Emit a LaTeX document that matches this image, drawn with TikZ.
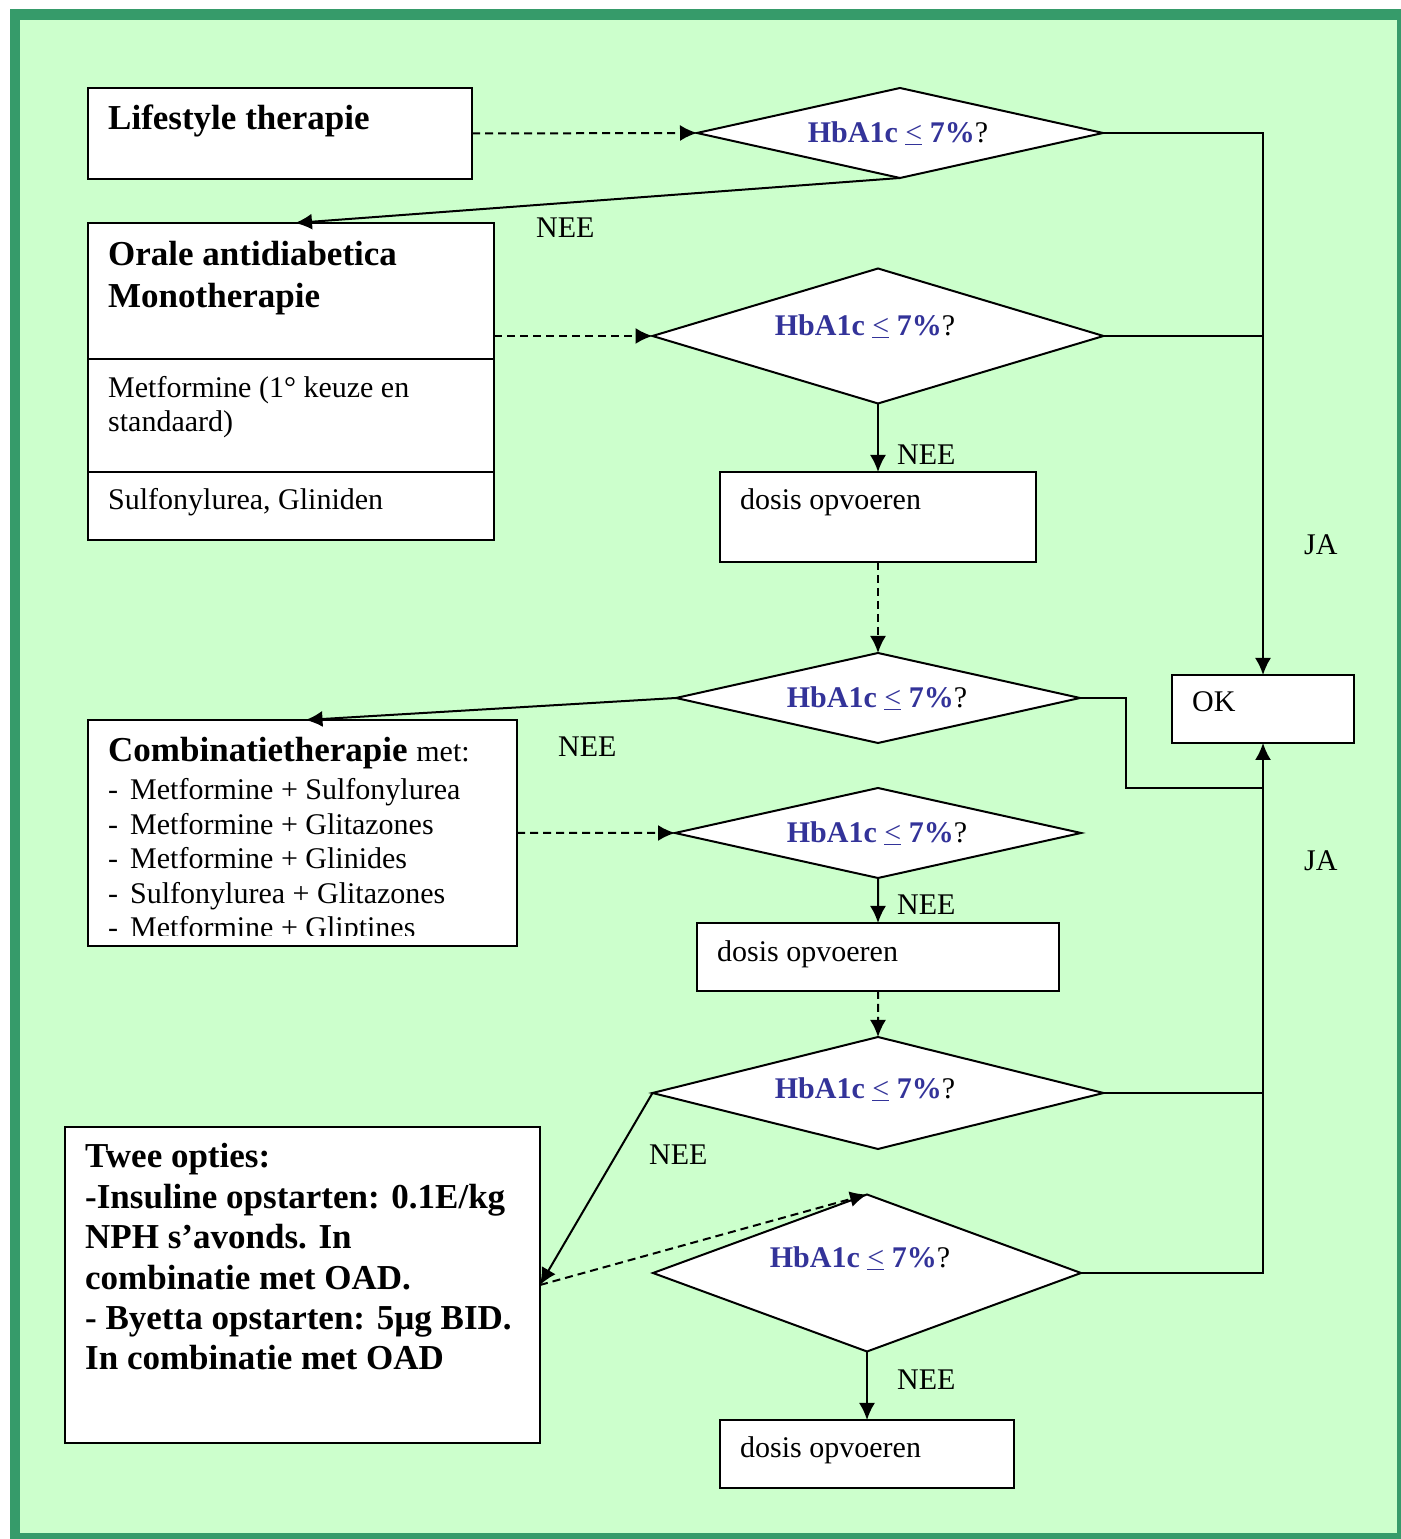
\documentclass[tikz,border=0pt]{standalone}
\usepackage{fontspec}
\setmainfont{Liberation Serif}
\usetikzlibrary{arrows.meta,shapes.geometric}

\definecolor{framegreen}{RGB}{54,155,106}
\definecolor{mintfill}{RGB}{204,255,204}
\definecolor{qblue}{RGB}{51,51,153}
\newcommand{\hbaone}{\textcolor{qblue}{\textbf{HbA1c} \underline{<} \textbf{7\%}}?}

\begin{document}
\begin{tikzpicture}[>={Latex[length=17bp,width=16bp]},
  box/.style={draw, fill=white, line width=2bp, rectangle, inner sep=0pt, outer sep=0pt, anchor=north west},
  choice/.style={draw, fill=white, line width=2bp, diamond, inner sep=0pt, outer sep=0pt},
  plain/.style={font=\fontsize{30bp}{34.5bp}\selectfont, inner sep=0pt, anchor=base west, align=left},
  heavy/.style={font=\fontsize{35bp}{42bp}\selectfont\bfseries, inner sep=0pt, anchor=base west, align=left},
  qtext/.style={font=\fontsize{30bp}{34bp}\selectfont, inner sep=0pt, text height=20bp, text depth=0pt},
  edge/.style={line width=2bp},
  dashedge/.style={line width=2bp, dash pattern=on 8bp off 5bp}]

% Frame
\useasboundingbox (0bp,0bp) rectangle (1401bp,1539bp);
\fill[framegreen] (10bp,0bp) rectangle (1401bp,1530bp);
\fill[mintfill] (20bp,6bp) rectangle (1397bp,1519bp);

% Node: life
\node[box, minimum width=384bp, minimum height=91bp] (life) at (88bp,1451bp) {};
\node[heavy] (lifetext) at (108bp,1409bp) {Lifestyle therapie};

% Node: qA
\node[choice, minimum width=406bp, minimum height=90bp,
  label={[qtext, xshift=-2bp]center:\hbaone}] (qA) at (900bp,1406bp) {};

% Node: orale (base = last line)
\node[box, minimum width=406bp, minimum height=317bp] (orale) at (88bp,1316bp) {};
\draw[edge] ([yshift=-136bp]orale.north west) -- ([yshift=-136bp]orale.north east);
\draw[edge] ([yshift=-249bp]orale.north west) -- ([yshift=-249bp]orale.north east);
\node[heavy] (oraletitle) at (108bp,1231bp) {Orale antidiabetica\\Monotherapie};
\node[plain] (metf) at (108bp,1107bp) {Metformine (1° keuze en\\standaard)};
\node[plain] (sulf) at (108bp,1029bp) {Sulfonylurea, Gliniden};

% Node: qB
\node[choice, minimum width=451bp, minimum height=135bp,
  label={[qtext, xshift=-13bp, yshift=10bp]center:\hbaone}] (qB) at (878bp,1203bp) {};

% Node: dosisA
\node[box, minimum width=316bp, minimum height=90bp] (dosisA) at (720bp,1067bp) {};
\node[plain] (dosisAtext) at (740bp,1029bp) {dosis opvoeren};

% Node: qC
\node[choice, minimum width=404bp, minimum height=90bp,
  label={[qtext, xshift=-1bp]center:\hbaone}] (qC) at (878bp,841bp) {};

% Node: ok
\node[box, minimum width=182bp, minimum height=68bp] (ok) at (1172bp,864bp) {};
\node[plain] (oktext) at (1192bp,827bp) {OK};

% Node: combi
\node[box, minimum width=429bp, minimum height=226bp] (combi) at (88bp,819bp) {};
\node[heavy] (combihead) at (108bp,777bp) {Combinatietherapie {\fontsize{30bp}{34.5bp}\selectfont\mdseries met:}};
\begin{scope}
  \clip (88bp,603bp) rectangle (517bp,819bp);
  \node[plain] (combilist) at (108bp,601bp) {\makebox[22bp][l]{-}Metformine + Sulfonylurea\\
    \makebox[22bp][l]{-}Metformine + Glitazones\\
    \makebox[22bp][l]{-}Metformine + Glinides\\
    \makebox[22bp][l]{-}Sulfonylurea + Glitazones\\
    \makebox[22bp][l]{-}Metformine + Gliptines};
\end{scope}

% Node: qD
\node[choice, minimum width=406bp, minimum height=90bp,
  label={[qtext, xshift=-1bp]center:\hbaone}] (qD) at (878bp,706bp) {};

% Node: dosisB
\node[box, minimum width=362bp, minimum height=68bp] (dosisB) at (697bp,616bp) {};
\node[plain] (dosisBtext) at (717bp,577bp) {dosis opvoeren};

% Node: qE
\node[choice, minimum width=451bp, minimum height=112bp,
  label={[qtext, xshift=-13bp, yshift=4bp]center:\hbaone}] (qE) at (878bp,446bp) {};

% Node: twee
\node[box, minimum width=475bp, minimum height=316bp] (twee) at (65bp,412bp) {};
\node[heavy, font=\fontsize{35bp}{40.4bp}\selectfont\bfseries] (tweetext) at (85bp,169bp)
  {Twee opties:\\-Insuline opstarten: 0.1E/kg\\NPH s’avonds. In\\combinatie met OAD.\\- Byetta opstarten: 5µg BID.\\In combinatie met OAD};

% Node: qF
\node[choice, minimum width=428bp, minimum height=157bp,
  label={[qtext, xshift=-7bp, yshift=15bp]center:\hbaone}] (qF) at (867bp,266bp) {};

% Node: dosisC
\node[box, minimum width=294bp, minimum height=68bp] (dosisC) at (720bp,119bp) {};
\node[plain] (dosisCtext) at (740bp,81bp) {dosis opvoeren};

% Labels
\node[plain] (neeA) at (536bp,1301bp) {NEE};
\node[plain] (neeB) at (897bp,1074bp) {NEE};
\node[plain] (neeC) at (558bp,782bp) {NEE};
\node[plain] (neeD) at (897bp,624bp) {NEE};
\node[plain] (neeE) at (649bp,374bp) {NEE};
\node[plain] (neeF) at (897bp,149bp) {NEE};
\node[plain] (jaA) at (1304bp,984bp) {JA};
\node[plain] (jaB) at (1304bp,668bp) {JA};

% Edge: life -> qA
\draw[dashedge,->] (life.east) -- (qA.west);
% Edge: qA -> orale
\draw[edge,->] (qA.south) -- ([xshift=4bp]orale.north);
% Edge: orale -> qB
\draw[dashedge,->] (orale.east |- qB.west) -- (qB.west);
% Edge: qB -> dosisA
\draw[edge,->] (qB.south) -- (dosisA.north);
% Edge: dosisA -> qC
\draw[dashedge,->] (dosisA.south) -- (qC.north);
% Edge: qC -> combi
\draw[edge,->] (qC.west) -- ([xshift=3bp]combi.north);
% Edge: combi -> qD
\draw[dashedge,->] (combi.east) -- (qD.west);
% Edge: qD -> dosisB
\draw[edge,->] (qD.south) -- (dosisB.north);
% Edge: dosisB -> qE
\draw[dashedge,->] (dosisB.south) -- (qE.north);
% Edge: qE -> twee
\draw[edge,->] (qE.west) -- (twee.east);
% Edge: twee -> qF
\draw[dashedge,->] (twee.east) -- (qF.north);
% Edge: qF -> dosisC
\draw[edge,->] (qF.south) -- (dosisC.north);

% Edge: qA, qB -> ok
\draw[edge,->] (qA.east) -| (ok.north);
\draw[edge] (qB.east) -- (qB.east -| ok.north);
% Edge: qC, qE, qF -> ok
\coordinate (joinC) at (1263bp,751bp);
\draw[edge] (qC.east) -- ++(46bp,0bp) |- (joinC);
\draw[edge] (qE.east) -- (qE.east -| ok.south);
\draw[edge,->] (qF.east) -| (ok.south);
%
\end{tikzpicture}
\end{document}
